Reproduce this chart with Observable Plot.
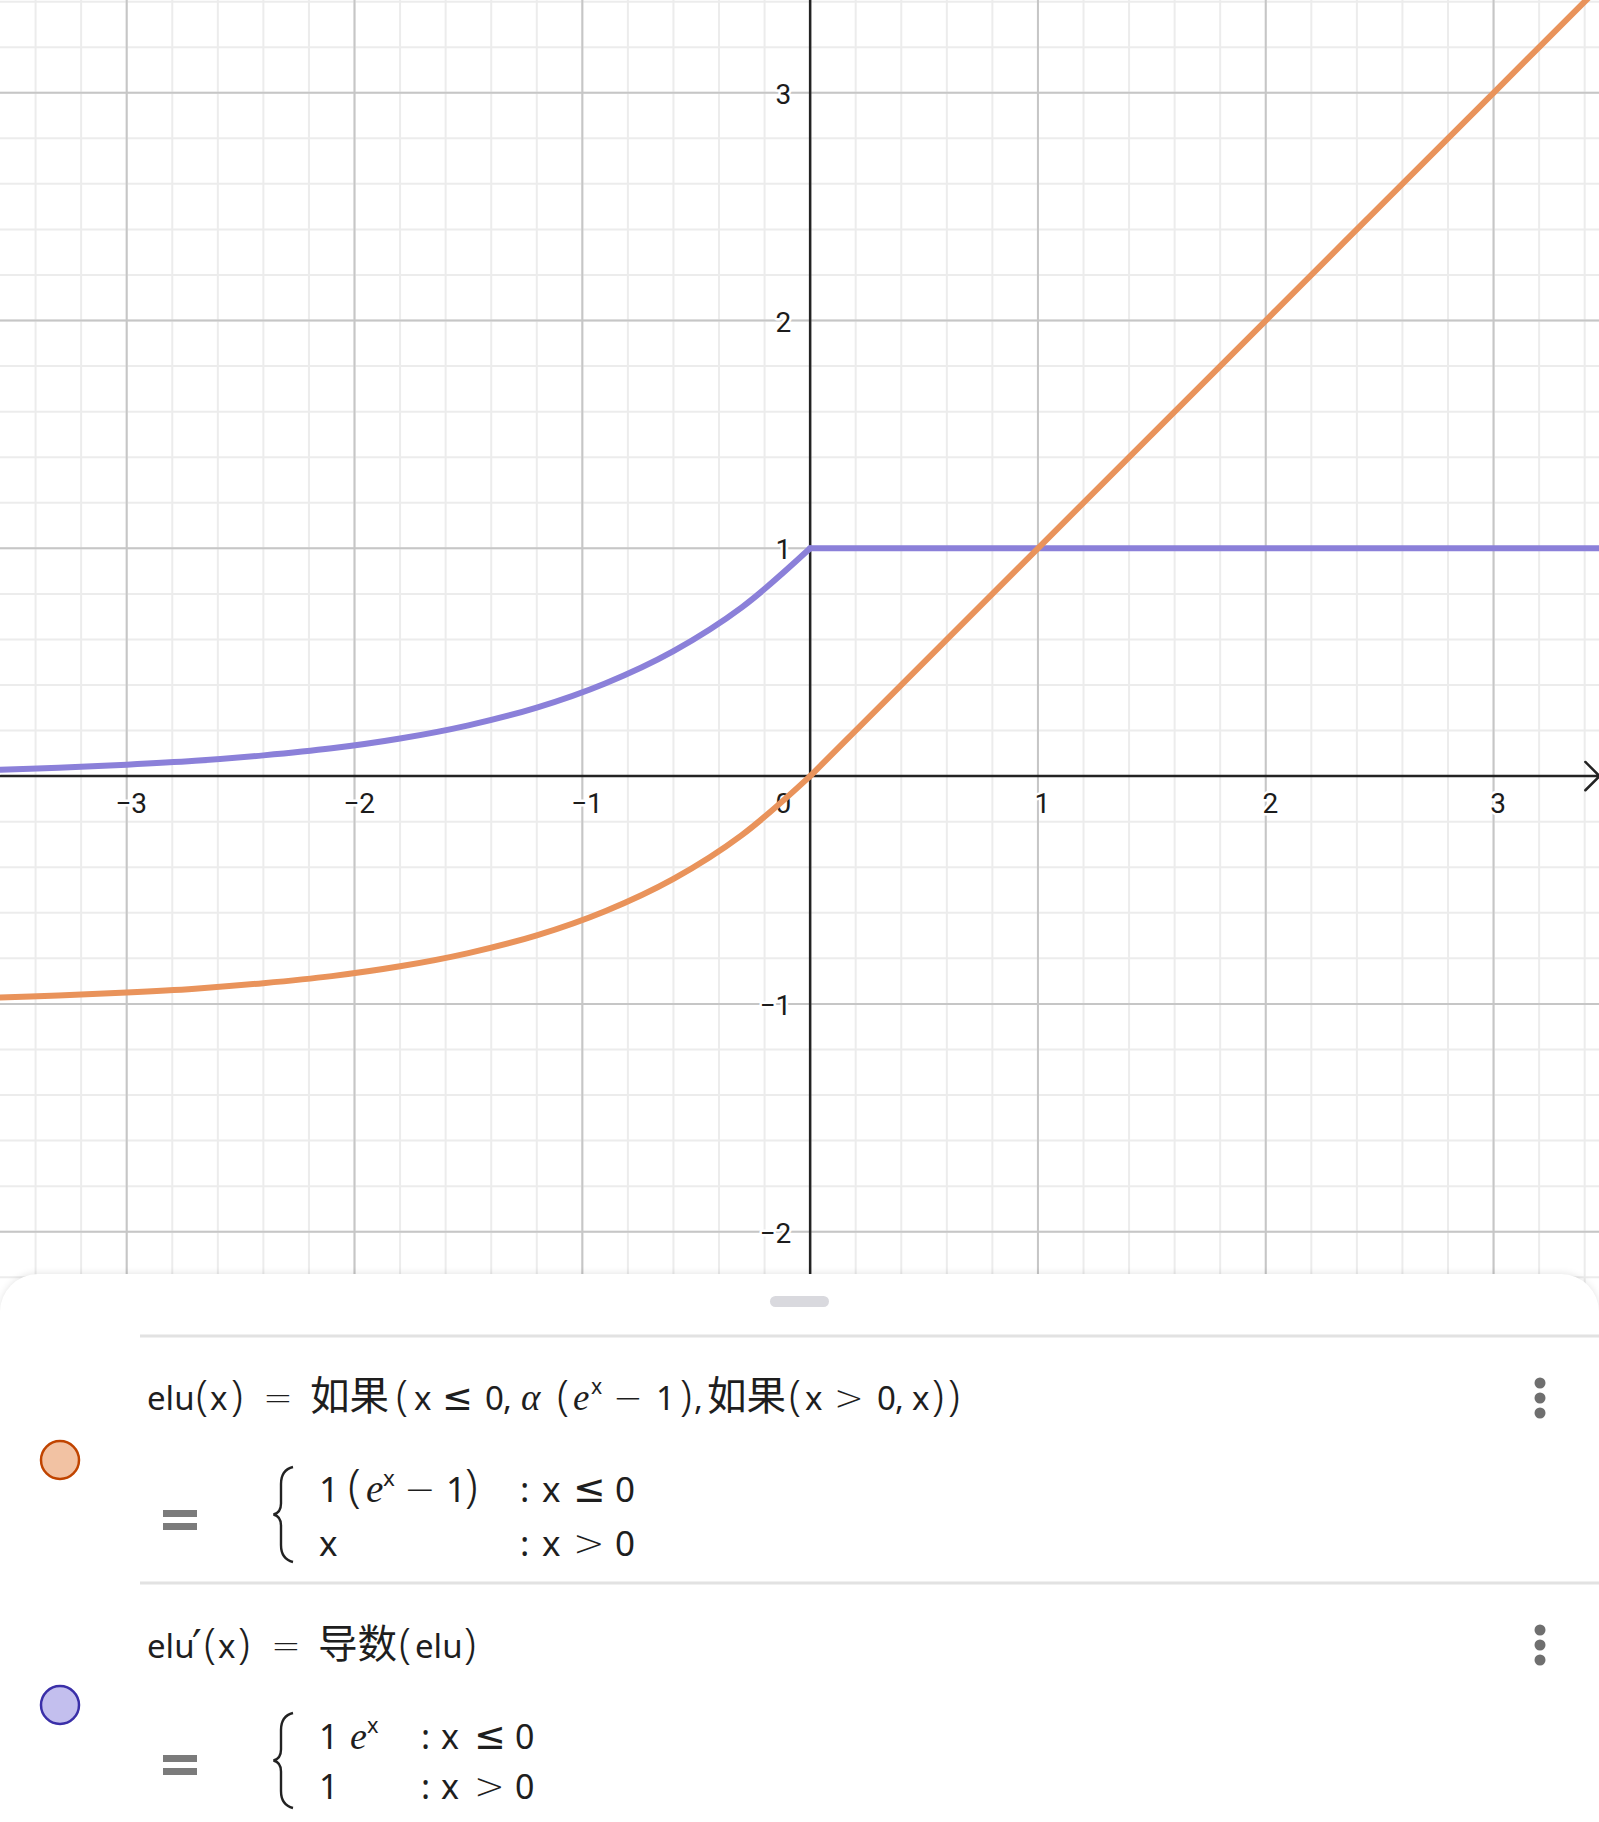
<!DOCTYPE html>
<html><head><meta charset="utf-8">
<script src="https://cdn.jsdelivr.net/npm/d3@7"></script>
<script src="https://cdn.jsdelivr.net/npm/@observablehq/plot@0.6"></script>
<style>
html,body{margin:0;padding:0;background:#fff;}
#wrap{position:relative;width:1599px;height:1822px;overflow:hidden;background:#fff;}
#chart{position:absolute;left:0;top:0;}
#panel{position:absolute;left:0;top:1274px;width:1599px;height:548px;background:#fff;border-radius:38px 38px 0 0;box-shadow:0 -1px 7px rgba(0,0,0,0.10);overflow:hidden;}
#panel svg{position:absolute;left:0;top:0;}
</style></head><body>
<div id="wrap"><div id="chart"></div><div id="panel"></div></div>
<script>
// ---------- DATA ----------
const xDomain = [-3.554, 3.465];
const yDomain = [-2.346, 3.405];
const xTicks = [-3, -2, -1, 1, 2, 3];
const xTickLabels = ["−3", "−2", "−1", "1", "2", "3"];
const yTicks = [-2, -1, 1, 2, 3];
const yTickLabels = ["−2", "−1", "1", "2", "3"];
const originLabel = ["0"];

// elu(x) (x <= 0 branch and x > 0 branch)
const xNeg = [-3.6, -3.3, -3.0, -2.7, -2.4, -2.1, -1.8, -1.5, -1.2, -0.9, -0.6, -0.3, 0];
const eluNeg = [-0.973, -0.963, -0.950, -0.933, -0.909, -0.878, -0.835, -0.777, -0.699, -0.593, -0.451, -0.259, 0];
const xPos = [0, 1, 2, 3, 3.6];
const eluPos = [0, 1, 2, 3, 3.6];
// elu'(x)
const dEluNeg = [0.027, 0.037, 0.050, 0.067, 0.091, 0.122, 0.165, 0.223, 0.301, 0.407, 0.549, 0.741, 1];
const dEluPos = [1, 1, 1, 1, 1];

const eluColor = "#e9935b";
const dEluColor = "#8b80d9";

// formula texts
const f1 = ["elu", "(", "x", ")", "=", "如果", "(", "x", "≤", "0", ",", "α", "(", "e", "x", "−", "1", ")", ",", "如果", "(", "x", ">", "0", ",", "x", ")", ")"];
const f1a = ["1", "(", "e", "x", "−", "1", ")", ":", "x", "≤", "0"];
const f1b = ["x", ":", "x", ">", "0"];
const f2 = ["elu", "′", "(", "x", ")", "=", "导数", "(", "elu", ")"];
const f2a = ["1", "e", "x", ":", "x", "≤", "0"];
const f2b = ["1", ":", "x", ">", "0"];

// ---------- CHART ----------
const minorX = d3.range(-17, 18).map(i => +(i * 0.2).toFixed(1));
const minorY = d3.range(-11, 18).map(i => +(i * 0.2).toFixed(1));
const majorX = d3.range(-3, 4);
const majorY = d3.range(-2, 4);

const eluRows = xNeg.map((x, i) => ({x, y: eluNeg[i], b: "n"}))
  .concat(xPos.map((x, i) => ({x, y: eluPos[i], b: "p"})));
const dEluRows = xNeg.map((x, i) => ({x, y: dEluNeg[i], b: "n"}))
  .concat(xPos.map((x, i) => ({x, y: dEluPos[i], b: "p"})));

const W = 1599, H = 1310;
const labelFont = "Roboto, 'Noto Sans', sans-serif";
const txt = (data, opts) => [
  Plot.text(data, {...opts, stroke: "white", strokeWidth: 5, strokeLinejoin: "round", fill: "white"}),
  Plot.text(data, {...opts, fill: "#1c1c1c"})
];

const chart = Plot.plot({
  width: W, height: H, margin: 0,
  x: {domain: xDomain, range: [0, W], axis: null},
  y: {domain: yDomain, range: [H, 0], axis: null},
  style: {background: "#fff", overflow: "hidden"},
  marks: [
    Plot.ruleX(minorX, {stroke: "#ececec", strokeWidth: 2}),
    Plot.ruleY(minorY, {stroke: "#ececec", strokeWidth: 2}),
    Plot.ruleX(majorX, {stroke: "#c6c6c6", strokeWidth: 2}),
    Plot.ruleY(majorY, {stroke: "#c6c6c6", strokeWidth: 2}),
    Plot.ruleX([0], {stroke: "#232323", strokeWidth: 2.5}),
    Plot.arrow([0], {x1: xDomain[0], x2: xDomain[1], y1: 0, y2: 0, stroke: "#232323", strokeWidth: 2.5, headLength: 12, headAngle: 90}),
    ...txt(xTicks, {x: d => d, y: 0, text: (d, i) => xTickLabels[i], dx: 4.5, dy: 28, fontSize: 28, fontFamily: labelFont}),
    ...txt(yTicks, {x: 0, y: d => d, text: (d, i) => yTickLabels[i], textAnchor: "end", dx: -19, dy: 2, fontSize: 28, fontFamily: labelFont}),
    ...txt(originLabel, {x: 0, y: 0, text: d => d, textAnchor: "end", dx: -19, dy: 28, fontSize: 28, fontFamily: labelFont}),
    Plot.line(dEluRows, {x: "x", y: "y", z: "b", stroke: dEluColor, strokeWidth: 6, curve: "catmull-rom", clip: true}),
    Plot.line(eluRows, {x: "x", y: "y", z: "b", stroke: eluColor, strokeWidth: 6, curve: "catmull-rom", clip: true})
  ]
});
document.getElementById("chart").appendChild(chart);

// ---------- ALGEBRA PANEL ----------
const svg = d3.select("#panel").append("svg")
  .attr("width", 1599).attr("height", 548)
  .attr("viewBox", "0 1274 1599 548");

svg.append("rect").attr("x", 770).attr("y", 1296).attr("width", 59).attr("height", 11).attr("rx", 5.5).attr("fill", "#d9d9de");
[1336, 1583].forEach(y => svg.append("rect").attr("x", 140).attr("y", y - 1.5).attr("width", 1459).attr("height", 3).attr("fill", "#e2e2e2"));

// menu dots
[[1383, 1398, 1413], [1630, 1645, 1660]].forEach(ys => ys.forEach(y =>
  svg.append("circle").attr("cx", 1540).attr("cy", y).attr("r", 5.5).attr("fill", "#6f6f6f")));

// color circles
svg.append("circle").attr("cx", 60).attr("cy", 1460).attr("r", 19).attr("fill", "#f2c2a3").attr("stroke", "#c04400").attr("stroke-width", 2.5);
svg.append("circle").attr("cx", 60).attr("cy", 1705).attr("r", 19).attr("fill", "#c3bfee").attr("stroke", "#3a2fa8").attr("stroke-width", 2.5);

// big gray "=" signs
[[1510, 1523], [1755, 1768]].forEach(ys => ys.forEach(y =>
  svg.append("rect").attr("x", 163).attr("y", y).attr("width", 34).attr("height", 7).attr("fill", "#7b7b7b")));

// braces
function brace(yt, yb) {
  const ym = (yt + yb) / 2, x1 = 293, s = 281, t = 273.5;
  return `M${x1},${yt} C${x1 - 8},${yt + 2} ${s},${yt + 7} ${s},${yt + 17} L${s},${ym - 11} C${s},${ym - 4} ${t + 4},${ym - 1} ${t},${ym} C${t + 4},${ym + 1} ${s},${ym + 4} ${s},${ym + 11} L${s},${yb - 17} C${s},${yb - 7} ${x1 - 8},${yb - 2} ${x1},${yb}`;
}
svg.append("path").attr("d", brace(1467, 1562)).attr("fill", "none").attr("stroke", "#222").attr("stroke-width", 2.4);
svg.append("path").attr("d", brace(1713, 1808)).attr("fill", "none").attr("stroke", "#222").attr("stroke-width", 2.4);

const sans = "'Noto Sans', 'Open Sans', sans-serif";
const cjk = "'Noto Sans CJK SC', sans-serif";
const serif = "'Liberation Serif', 'DejaVu Serif', serif";
const mathOp = "'DejaVu Sans', sans-serif";
function row(y, size, tokens, xs, kinds) {
  const t = svg.append("text").attr("fill", "#1e1e1e");
  tokens.forEach((tok, i) => {
    const k = kinds[i] || "t";
    const sp = t.append("tspan").attr("x", xs[i]).attr("y", y).text(tok)
      .attr("font-family", sans).attr("font-size", size);
    if (k === "c") sp.attr("font-family", cjk).attr("font-size", size * 1.2);
    if (k === "i") sp.attr("font-family", serif).attr("font-style", "italic").attr("font-size", size * 1.12);
    if (k === "s") sp.attr("y", y - 16).attr("font-size", size * 0.64);
    if (k === "p") sp.attr("font-size", size * 1.3).attr("font-weight", 300);
    if (k === "o") sp.attr("font-family", mathOp).attr("font-size", size * 1.08).attr("font-weight", 300);
    if (k === "l") sp.attr("font-family", mathOp).attr("font-size", size * 1.12).attr("font-weight", 400);
    if (k === "q") sp.attr("font-family", mathOp).attr("y", y + 2).attr("font-size", size * 1.3);
  });
}
row(1410, 33, f1,
  [147, 196, 210, 231, 263, 310, 396, 414, 442, 485, 503, 521, 557, 573, 591, 613, 656, 680, 694, 707, 789, 805, 834, 877, 895, 912, 932, 948],
  ["t","p","t","p","o","c","p","t","l","t","t","i","p","i","s","o","t","p","t","c","p","t","o","t","t","t","p","p"]);
row(1502, 35, f1a, [319, 348, 366, 383, 404, 446, 465, 520, 542, 573, 615],
  ["t","p","i","s","o","t","p","t","t","l","t"]);
row(1556, 35, f1b, [319, 520, 542, 573, 615], ["t","t","t","o","t"]);
row(1658, 33, f2, [147, 192, 204, 218, 238, 271, 318, 399, 415, 464],
  ["t","q","p","t","p","o","c","p","t","p"]);
row(1749, 34, f2a, [319, 350, 367, 421, 441, 474, 515], ["t","i","s","t","t","l","t"]);
row(1799, 34, f2b, [319, 421, 441, 474, 515], ["t","t","t","o","t"]);
</script>
</body></html>
